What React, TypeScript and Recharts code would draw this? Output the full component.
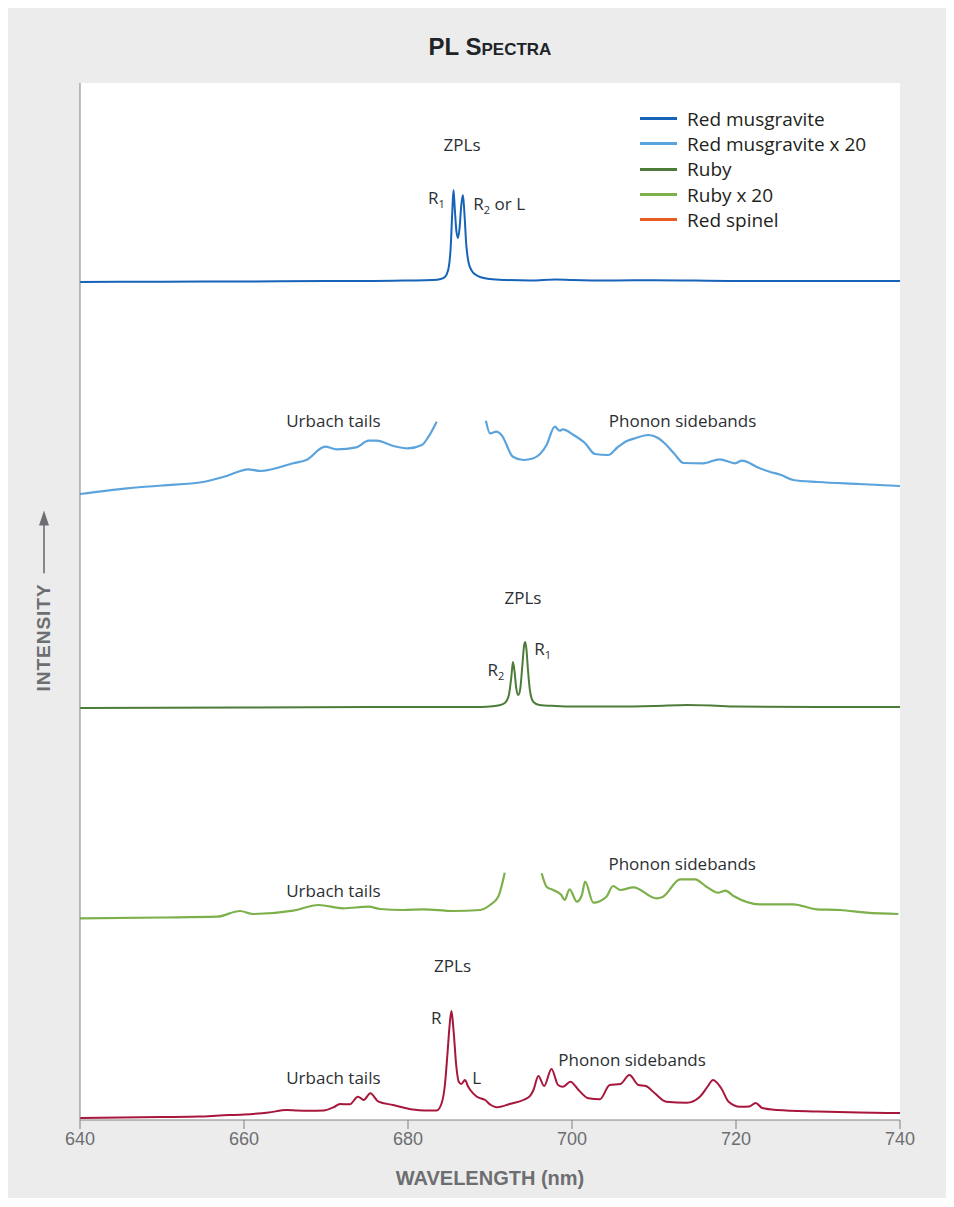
import { CartesianGrid, Legend, Line, LineChart, ReferenceDot, XAxis, YAxis } from 'recharts'

// values; y is intensity in arbitrary units with each trace's display offset included
const wavelengthTicks = [640, 660, 680, 700, 720, 740]

const musgraviteRaw: [number, number | null][] = [
  [640, 838], [650, 838.3], [660, 838.5], [670, 839], [675, 839], [680, 839.5], [683, 840], [684, 841],
  [684.5, 843], [684.9, 850], [685.2, 872], [685.4, 908], [685.55, 930], [685.7, 912], [685.9, 889],
  [686.1, 882], [686.3, 893], [686.5, 915], [686.7, 925], [686.9, 904], [687.1, 876], [687.4, 857],
  [687.8, 849], [688.3, 845], [689, 842.5], [690, 841], [692, 840], [695, 839.5], [698, 840.5],
  [700, 840], [705, 839.5], [710, 839.8], [720, 839], [730, 839], [740, 839],
]

const musgraviteX20Raw: [number, number | null][] = [
  [640, 626], [645.7, 631.7], [650, 634.5], [655, 638], [657.9, 644], [660.5, 650.7], [662, 649],
  [666, 656.7], [667.6, 660], [669.9, 673.3], [671.3, 670.7], [673.7, 672.7], [675.2, 679.3],
  [676.2, 679.3], [678.2, 674], [680, 671.7], [681.7, 675], [682.5, 683.3], [683.5, 698.3],
  [686.5, null],
  [689.5, 699.3], [690, 686.7], [690.8, 688.3], [691.4, 685], [692.8, 663.3], [694.1, 660],
  [695.3, 661.7], [696.9, 675], [697.9, 693.3], [698.5, 689.3], [698.9, 690.7], [700.2, 685],
  [701.6, 676.7], [702.8, 666], [704.4, 665], [705.6, 673], [706.7, 679], [707.8, 682],
  [709.3, 685], [710.5, 682], [711.3, 676.7], [712.5, 666], [713.6, 657], [716, 656.7],
  [718, 660.7], [719.9, 656.7], [720.7, 659.3], [722.9, 651.7], [724.1, 648.3], [725.5, 645],
  [727, 640], [730, 638], [735, 636], [740, 634],
]

const rubyRaw: [number, number | null][] = [
  [640, 412], [660, 412.5], [680, 413], [688, 413], [690, 413.5], [691, 414.5], [691.8, 417],
  [692.3, 425], [692.6, 443], [692.8, 458], [693, 448], [693.2, 432], [693.45, 425], [693.7, 432],
  [693.95, 455], [694.15, 474], [694.3, 478], [694.45, 470], [694.65, 448], [694.9, 428],
  [695.3, 418], [696, 415], [698, 414], [700, 413.5], [705, 413.5], [710, 414], [714, 415],
  [717, 414.5], [720, 413.5], [730, 413], [740, 413],
]

const rubyX20Raw: [number, number | null][] = [
  [640, 201.7], [650, 202.5], [656.7, 203.3], [659.5, 209], [661.1, 206], [666, 209.3], [669.1, 215],
  [672.1, 211.7], [675.2, 213.3], [676.6, 211], [679.4, 210], [681.9, 210.7], [685.5, 209],
  [688.8, 210], [690, 215], [691, 223.3], [691.8, 247.3],
  [694, null],
  [696.3, 246.7], [696.9, 233.3], [697.7, 230], [698.7, 225], [699.1, 220], [699.7, 230.7],
  [700.6, 218.3], [701.2, 225], [701.6, 238.3], [702.6, 217.3], [704.2, 223.3], [705, 234],
  [705.9, 230], [707.5, 232.7], [710.3, 221.7], [711.1, 223.3], [713.2, 240.7], [715, 240.7],
  [716.4, 233.3], [717.8, 227.3], [718.7, 229.3], [719.7, 224], [722.9, 215.7], [727, 215.7],
  [729.8, 210.7], [732.7, 210], [735.9, 207.3], [739.8, 206],
]

const spinelRaw: [number, number | null][] = [
  [640, 2], [645, 2.5], [650, 3], [654.6, 3.5], [657, 4.5], [660, 5.5], [663, 7.5], [665.2, 10],
  [666.5, 9.5], [668, 9.3], [669.7, 9.5], [671, 13], [671.7, 16], [672.9, 15.7], [673.9, 23.3],
  [674.6, 20], [675.4, 26.7], [676.4, 18.3], [678.2, 15], [680.6, 10.5], [682, 9.5], [683.5, 9.5],
  [684.1, 16.7], [684.5, 35], [684.8, 65], [685.1, 97], [685.3, 109], [685.55, 90], [685.9, 53],
  [686.2, 38], [686.5, 36], [686.95, 40], [687.3, 34], [687.6, 30], [688.4, 23.3], [689.4, 20],
  [690.1, 15], [690.8, 12.7], [692.4, 16], [694.7, 22.7], [695.3, 30], [695.9, 44], [696.6, 34],
  [697.5, 51], [698.3, 35], [698.9, 33.3], [699.8, 38.3], [700.8, 30], [702, 21.7], [703.4, 20.7],
  [704.6, 35], [705.9, 36], [707, 45], [708.1, 35], [709, 34], [710.1, 26.7], [711.5, 18.3],
  [714, 17.3], [715.6, 23.3], [716.5, 33], [717.2, 40], [718.2, 31.7], [719.1, 18.3], [720.5, 13.3],
  [721.6, 13.5], [722.4, 17], [723.2, 12], [725, 10], [730, 8.5], [735, 7.5], [740, 7],
]

const legendItems = [
  { name: 'Red musgravite', color: '#1763b8' },
  { name: 'Red musgravite x 20', color: '#5ba3dc' },
  { name: 'Ruby', color: '#4d7c3a' },
  { name: 'Ruby x 20', color: '#7db04b' },
  { name: 'Red spinel', color: '#e85d1f' },
]

type Note = { x: number; y: number; text: string; sub?: string; tail?: string; anchor?: 'start' | 'middle' }

const notes: Note[] = [
  { x: 686.59, y: 976, text: 'ZPLs' },
  { x: 682.44, y: 923, text: 'R', sub: '1', anchor: 'start' },
  { x: 687.97, y: 917, text: 'R', sub: '2', tail: ' or L', anchor: 'start' },
  { x: 670.9, y: 700, text: 'Urbach tails' },
  { x: 713.48, y: 700, text: 'Phonon sidebands' },
  { x: 694.02, y: 523, text: 'ZPLs' },
  { x: 689.7, y: 451, text: 'R', sub: '2', anchor: 'start' },
  { x: 695.4, y: 472, text: 'R', sub: '1', anchor: 'start' },
  { x: 713.44, y: 257, text: 'Phonon sidebands' },
  { x: 670.9, y: 230, text: 'Urbach tails' },
  { x: 685.43, y: 155, text: 'ZPLs' },
  { x: 683.44, y: 103, text: 'R' },
  { x: 688.37, y: 43, text: 'L' },
  { x: 707.33, y: 61, text: 'Phonon sidebands' },
  { x: 670.9, y: 43, text: 'Urbach tails' },
]

const toPoints = (raw: [number, number | null][]) => raw.map(([x, y]) => ({ x, y }))

const musgravite = toPoints(musgraviteRaw)
const musgraviteX20 = toPoints(musgraviteX20Raw)
const ruby = toPoints(rubyRaw)
const rubyX20 = toPoints(rubyX20Raw)
const spinel = toPoints(spinelRaw)

const axisGray = '#808080'
const labelGray = '#6d6e71'

const noteShape = (n: Note) => (props: any) => (
  <text
    x={props.cx}
    y={props.cy}
    textAnchor={n.anchor ?? 'middle'}
    dominantBaseline="central"
    fontFamily="Open Sans"
    fontSize={17}
    fill="#2b2f33"
  >
    {n.text}
    {n.sub && (
      <tspan fontSize={11} dy={6}>
        {n.sub}
      </tspan>
    )}
    {n.tail && <tspan dy={-6}>{n.tail}</tspan>}
  </text>
)

const renderLegend = () => (
  <div style={{ fontFamily: 'Open Sans', fontSize: 19, color: '#231f20' }}>
    {legendItems.map((item) => (
      <div key={item.name} style={{ display: 'flex', alignItems: 'center', height: 25.3, whiteSpace: 'nowrap' }}>
        <span style={{ display: 'inline-block', width: 37, height: 3, background: item.color, marginRight: 10 }} />
        <span>{item.name}</span>
      </div>
    ))}
  </div>
)

const App = () => {
  return (
    <div style={{ position: 'relative', width: 942, height: 1190, background: '#ececec' }}>
      <LineChart width={942} height={1190} margin={{ top: 75, right: 50, left: 60, bottom: 6 }}>
        <CartesianGrid horizontal={false} vertical={false} fill="#ffffff" />
        <XAxis
          type="number"
          dataKey="x"
          domain={[640, 740]}
          ticks={wavelengthTicks}
          allowDataOverflow
          height={72}
          tickSize={9}
          tickMargin={3}
          axisLine={{ stroke: axisGray }}
          tickLine={{ stroke: axisGray }}
          tick={{ fill: labelGray, fontSize: 18, fontFamily: 'Liberation Sans' }}
          label={{
            value: 'WAVELENGTH (nm)',
            position: 'insideBottom',
            offset: 7,
            fill: labelGray,
            fontSize: 20,
            fontWeight: 700,
            fontFamily: 'Liberation Sans',
          }}
        />
        <YAxis
          type="number"
          domain={[0, 1037]}
          allowDataOverflow
          tick={false}
          tickLine={false}
          width={12}
          axisLine={{ stroke: axisGray }}
        />
        <Legend
          layout="vertical"
          align="center"
          verticalAlign="middle"
          wrapperStyle={{ top: 98, left: 632, width: 280 }}
          content={renderLegend}
        />
        <Line data={musgravite} dataKey="y" type="monotone" stroke="#1763b8" strokeWidth={2} dot={false} isAnimationActive={false} connectNulls={false} />
        <Line data={musgraviteX20} dataKey="y" type="monotone" stroke="#5ba3dc" strokeWidth={2.2} dot={false} isAnimationActive={false} connectNulls={false} />
        <Line data={ruby} dataKey="y" type="monotone" stroke="#4d7c3a" strokeWidth={2} dot={false} isAnimationActive={false} connectNulls={false} />
        <Line data={rubyX20} dataKey="y" type="monotone" stroke="#7db04b" strokeWidth={2.2} dot={false} isAnimationActive={false} connectNulls={false} />
        <Line data={spinel} dataKey="y" type="monotone" stroke="#a6173b" strokeWidth={2} dot={false} isAnimationActive={false} connectNulls={false} />
        {notes.map((n, i) => (
          <ReferenceDot key={i} x={n.x} y={n.y} r={0} shape={noteShape(n)} />
        ))}
      </LineChart>
      <div
        style={{
          position: 'absolute',
          top: 23,
          left: 72,
          width: 820,
          lineHeight: '32px',
          textAlign: 'center',
          fontFamily: 'Liberation Sans',
          fontWeight: 700,
          fontSize: 24,
          fontVariant: 'small-caps',
          color: '#1e2327',
        }}
      >
        PL Spectra
      </div>
      <div
        style={{
          position: 'absolute',
          left: 36,
          top: 593,
          transform: 'translate(-50%, -50%) rotate(-90deg)',
          display: 'flex',
          alignItems: 'center',
          whiteSpace: 'nowrap',
          fontFamily: 'Liberation Sans',
          fontWeight: 700,
          fontSize: 19,
          letterSpacing: 1,
          color: labelGray,
        }}
      >
        <span>INTENSITY</span>
        <svg width={63} height={12} style={{ marginLeft: 10 }}>
          <line x1={0} y1={6} x2={50} y2={6} stroke={labelGray} strokeWidth={1.6} />
          <polygon points="48,1 63,6 48,11" fill={labelGray} />
        </svg>
      </div>
    </div>
  )
}

export default App
